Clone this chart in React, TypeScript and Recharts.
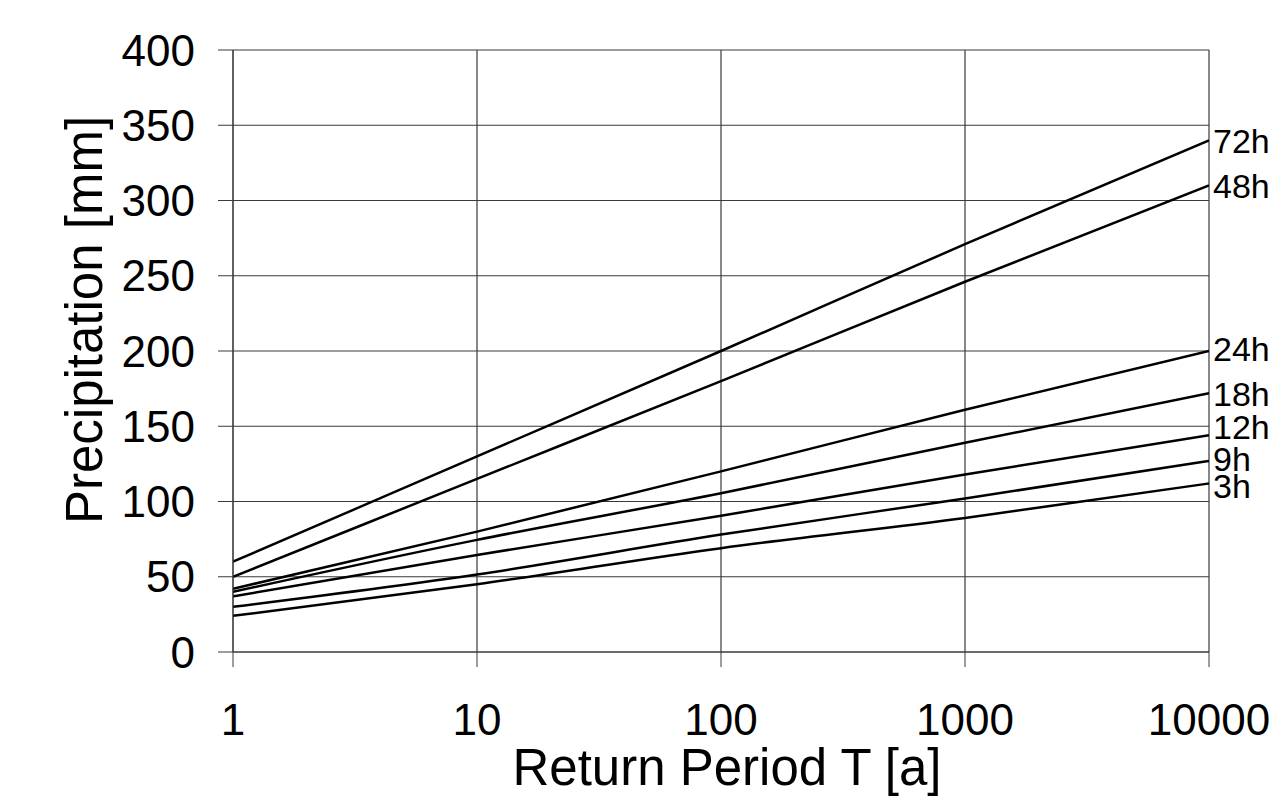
import React from "react";
import {
  LineChart,
  Line,
  XAxis,
  YAxis,
  CartesianGrid,
  LabelList,
  Label,
} from "recharts";

// return periods (years) and precipitation depths (mm) per duration
const returnPeriods = [1, 10, 100, 1000, 10000];
const p72h = [60, 130, 200, 271, 340];
const p48h = [50, 115, 180, 246, 310];
const p24h = [42, 80, 120, 161, 200];
const p18h = [40, 74.5, 105.5, 139, 172];
const p12h = [37, 64.5, 90.5, 118, 144];
const p9h = [30, 51.5, 78, 102, 127];
const p3h = [24, 45, 69, 89, 112];

const xTicks = [1, 10, 100, 1000, 10000];
const yTicks = [0, 50, 100, 150, 200, 250, 300, 350, 400];

const seriesList = [
  { key: "h72", label: "72h", values: p72h, shift: 1 },
  { key: "h48", label: "48h", values: p48h, shift: 1 },
  { key: "h24", label: "24h", values: p24h, shift: -2 },
  { key: "h18", label: "18h", values: p18h, shift: 1 },
  { key: "h12", label: "12h", values: p12h, shift: -8 },
  { key: "h9", label: "9h", values: p9h, shift: -2 },
  { key: "h3", label: "3h", values: p3h, shift: 3 },
];

const data = returnPeriods.map((t, i) => {
  const row: any = { T: t };
  seriesList.forEach((s) => {
    row[s.key] = s.values[i];
  });
  return row;
});

const FONT = '"Liberation Sans", Arial, sans-serif';
const GRID = "#3a3a3a";

function endLabel(text: string, shift: number) {
  return (props: any) => {
    if (props.index !== returnPeriods.length - 1) return <g />;
    return (
      <text
        x={props.x + 4}
        y={props.y + shift}
        dominantBaseline="central"
        fontSize={34}
        fontFamily={FONT}
        fill="#000"
      >
        {text}
      </text>
    );
  };
}

export default function App() {
  return (
    <div style={{ width: 1279, height: 797, background: "#fff" }}>
      <style>{"body{margin:0;background:#fff}"}</style>
      <LineChart
        width={1279}
        height={797}
        data={data}
        margin={{ top: 50, right: 70, left: 0, bottom: 0 }}
      >
        <CartesianGrid stroke={GRID} strokeWidth={1.2} />
        <XAxis
          dataKey="T"
          type="number"
          scale="log"
          domain={[1, 10000]}
          ticks={xTicks}
          allowDataOverflow
          height={145}
          tickSize={15}
          tickMargin={37}
          stroke={GRID}
          tick={{ fontSize: 44, fill: "#000", fontFamily: FONT }}
          interval={0}
        >
          <Label
            content={() => (
              <text
                x={727}
                y={785}
                textAnchor="middle"
                fontSize={51}
                fontFamily={FONT}
                fill="#000"
              >
                Return Period T [a]
              </text>
            )}
          />
        </XAxis>
        <YAxis
          type="number"
          domain={[0, 400]}
          ticks={yTicks}
          width={233}
          tickSize={15}
          tickMargin={23}
          stroke={GRID}
          tick={{ fontSize: 44, fill: "#000", fontFamily: FONT }}
          interval={0}
        >
          <Label
            content={() => (
              <text
                x={102}
                y={320}
                textAnchor="middle"
                fontSize={51}
                fontFamily={FONT}
                fill="#000"
                transform="rotate(-90, 102, 320)"
              >
                Precipitation [mm]
              </text>
            )}
          />
        </YAxis>
        {seriesList.map((s) => (
          <Line
            key={s.key}
            dataKey={s.key}
            type="monotone"
            stroke="#000"
            strokeWidth={2.5}
            dot={false}
            isAnimationActive={false}
          >
            <LabelList dataKey={s.key} content={endLabel(s.label, s.shift)} />
          </Line>
        ))}
      </LineChart>
    </div>
  );
}
